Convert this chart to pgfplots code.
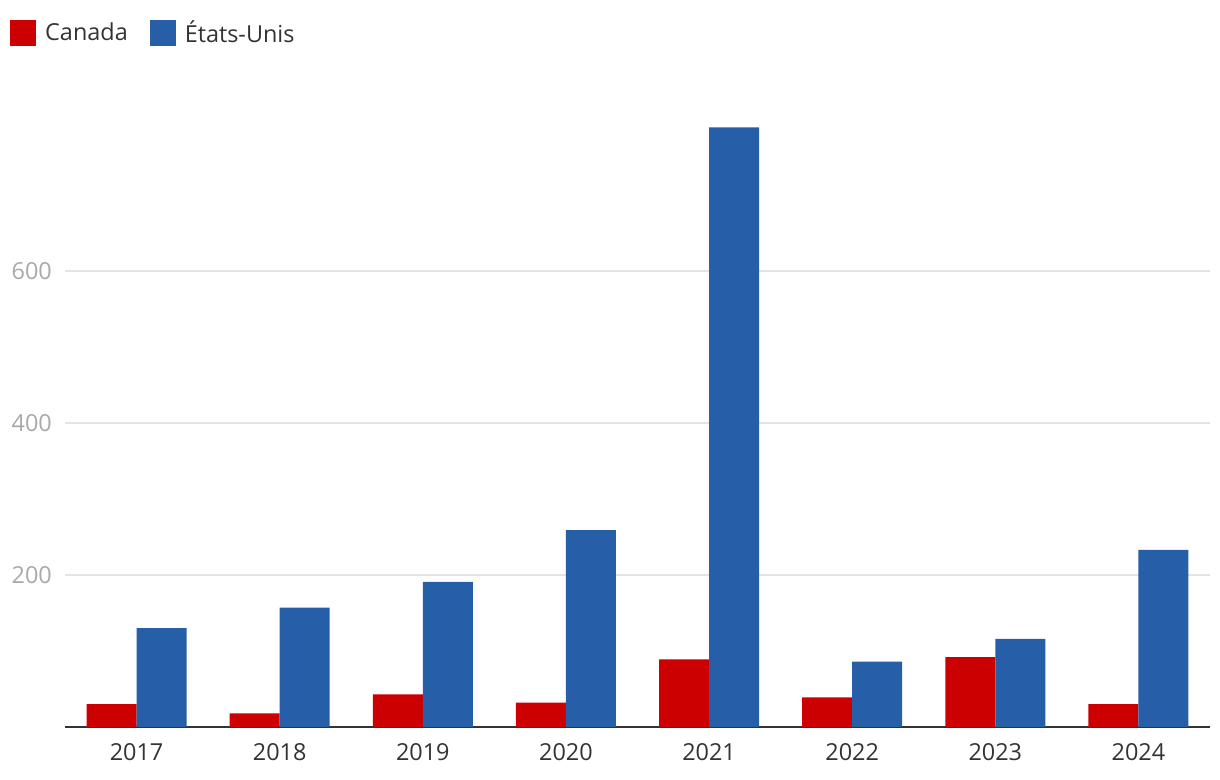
\documentclass[border=0pt]{standalone}
\usepackage{fontspec}
\setmainfont{Open Sans}
\usepackage{pgfplots}
\pgfplotsset{compat=1.18}
\definecolor{canred}{HTML}{CC0000}
\definecolor{usblue}{HTML}{265FA8}
\definecolor{gridgray}{HTML}{E3E3E3}
\definecolor{ticky}{HTML}{A8A8A8}
\definecolor{textdark}{HTML}{333333}

\begin{document}
\begin{tikzpicture}[x=1bp,y=1bp]
\path[use as bounding box] (0,0) rectangle (1220,780);
\begin{axis}[
    at={(65bp,53bp)}, anchor=south west,
    scale only axis,
    width=1145bp, height=608bp,
    ybar=0pt,
    bar width=50bp,
    xmin=-0.5, xmax=7.5,
    ymin=0, ymax=800,
    xtick=data,
    xticklabels={2017,2018,2019,2020,2021,2022,2023,2024},
    ytick={200,400,600},
    axis x line*=bottom,
    axis y line*=left,
    x axis line style={-, draw=textdark, line width=2.5bp},
    y axis line style={draw=none},
    major tick length=0pt,
    tick style={draw=none},
    ymajorgrids,
    grid style={gridgray, line width=1.5bp},
    /pgf/number format/assume math mode=true,
    xticklabel style={font=\fontsize{23.5}{28}\selectfont, text=textdark, inner sep=0pt, yshift=-16bp},
    yticklabel style={font=\fontsize{23.5}{28}\selectfont, text=ticky, inner sep=0pt, xshift=-13bp},
    legend columns=2,
    legend style={at={(-0.048,1.165)}, anchor=north west, draw=none, fill=none,
        font=\fontsize{23.5}{28}\selectfont, text=textdark, inner sep=0pt,
        /tikz/every odd column/.append style={column sep=7bp},
        /tikz/every even column/.append style={column sep=20bp}},
    legend image code/.code={\fill[#1] (0bp,-13bp) rectangle (26bp,13bp);},
]
\addplot[fill=canred, draw=none] coordinates {(0,30) (1,18) (2,43) (3,32) (4,89) (5,39) (6,92) (7,30)};
\addplot[fill=usblue, draw=none] coordinates {(0,130) (1,157) (2,191) (3,259) (4,789) (5,86) (6,116) (7,233)};
\legend{Canada, États-Unis}
\end{axis}
\end{tikzpicture}
\end{document}
